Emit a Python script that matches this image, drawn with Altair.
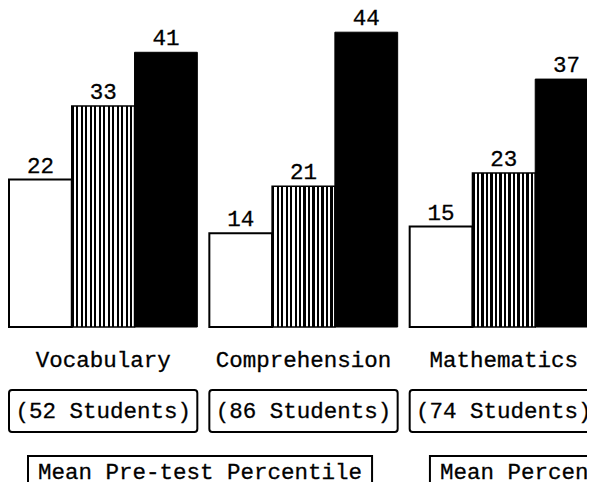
import altair as alt
import pandas as pd

categories = ["Vocabulary", "Comprehension", "Mathematics"]
students = [52, 86, 74]
series = ["Pre-test", "Interim", "Post-test"]
pre_values = [22, 14, 15]
interim_values = [33, 21, 23]
post_values = [41, 44, 37]
legend_labels = ["Mean Pre-test Percentile", "Mean Percentile"]

FONT = "Liberation Mono"
FS = 22.5
TXT = dict(font=FONT, fontSize=FS, color="black", stroke="black", strokeWidth=0.3)
W, H = 579, 474

rows = []
for s, vals in zip(series, [pre_values, interim_values, post_values]):
    for c, v in zip(categories, vals):
        rows.append({"category": c, "series": s, "value": v})
df = pd.DataFrame(rows)
df_students = pd.DataFrame({"category": categories,
                            "label": [f"({n} Students)" for n in students]})
df_legend = pd.DataFrame({"label": legend_labels})

X = alt.X("category:N", sort=categories,
          scale=alt.Scale(type="band", domain=categories, range=[1, 590],
                          paddingInner=0.06, paddingOuter=0),
          axis=None)
XO = alt.XOffset("series:N", scale=alt.Scale(type="band", domain=series,
                                              paddingInner=0, paddingOuter=0))
Y = alt.Y("value:Q", scale=alt.Scale(domain=[-23.13, 47.61], nice=False, zero=False), axis=None)

stripes = []
n = 14
for i in range(n):
    a = i / n
    b = (i + 0.5) / n
    c = (i + 1) / n
    stripes += [alt.GradientStop(offset=a, color="black"), alt.GradientStop(offset=b, color="black"),
                alt.GradientStop(offset=b, color="white"), alt.GradientStop(offset=c, color="white")]
striped_fill = alt.LinearGradient(gradient="linear", stops=stripes, x1=0, x2=1, y1=0, y2=0)

base = alt.Chart(df)

white_bars = base.transform_filter(alt.datum.series == series[0]).mark_bar(
    fill="white", stroke="black", strokeWidth=2).encode(x=X, xOffset=XO, y=Y)
striped_bars = base.transform_filter(alt.datum.series == series[1]).mark_bar(
    fill=striped_fill, stroke="black", strokeWidth=1.5).encode(x=X, xOffset=XO, y=Y)
black_bars = base.transform_filter(alt.datum.series == series[2]).mark_bar(
    fill="black", stroke="black", strokeWidth=1).encode(x=X, xOffset=XO, y=Y)

value_labels = base.mark_text(baseline="alphabetic", dy=-7, **TXT).encode(
    x=X, xOffset=XO, y=Y, text="value:Q")

category_text = alt.Chart(df_students).mark_text(baseline="alphabetic", **TXT).encode(
    x=X, y=alt.value(359), text="category:N")

student_boxes = alt.Chart(df_students).mark_rect(
    fill="white", stroke="black", strokeWidth=2, cornerRadius=3).encode(
    x=X, y=alt.value(382), y2=alt.value(424))
student_text = alt.Chart(df_students).mark_text(baseline="middle", **TXT).encode(
    x=X, y=alt.value(403), text="label:N")

main = alt.layer(white_bars, striped_bars, black_bars, value_labels, category_text,
                 student_boxes, student_text)

LX = alt.X("label:N", sort=legend_labels,
           scale=alt.Scale(type="band", domain=legend_labels, range=[20, 766],
                           paddingInner=0.144, paddingOuter=0),
           axis=None)
legend_boxes = alt.Chart(df_legend).mark_rect(
    fill="white", stroke="black", strokeWidth=2).encode(
    x=LX, y=alt.value(448), y2=alt.value(530))
legend_text = alt.Chart(df_legend).mark_text(
    baseline="alphabetic", align="left", dx=-162, **TXT).encode(
    x=LX, y=alt.value(471), text="label:N")
legend = alt.layer(legend_boxes, legend_text)

chart = alt.layer(main, legend).resolve_scale(x="independent").properties(
    width=W, height=H, padding=0,
    autosize=alt.AutoSizeParams(type="none"),
    background="white",
).configure_view(stroke=None)

chart.save("out.html", embed_options={"renderer": "svg", "actions": False})
